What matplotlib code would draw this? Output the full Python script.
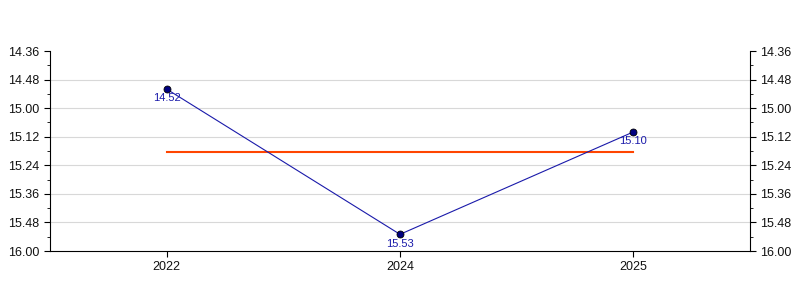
import matplotlib.pyplot as plt
from matplotlib.ticker import FixedLocator, FuncFormatter

plt.rcParams['font.family'] = ['Liberation Sans', 'DejaVu Sans']

years = ['2022', '2024', '2025']
times_sec = [892, 953, 910]  # 14:52, 15:53, 15:10
labels = ['14.52', '15.53', '15.10']
avg_sec = sum(times_sec) / len(times_sec)

major_ticks = [876, 888, 900, 912, 924, 936, 948, 960]
minor_ticks = [882, 894, 906, 918, 930, 942, 954]


def fmt(v, pos=None):
    v = int(round(v))
    return f"{v // 60}.{v % 60:02d}"


fig = plt.figure(figsize=(8, 3), dpi=100)
ax = fig.add_axes([0.0625, 0.1633, 0.875, 0.6667])

# grid only on the inner major ticks
for t in major_ticks[1:-1]:
    ax.axhline(t, color='#d8d8d8', lw=0.8, zorder=0)

x = list(range(len(years)))
ax.plot([x[0], x[-1]], [avg_sec, avg_sec], color='#ff4500', lw=1.5, zorder=2)
ax.plot(x, times_sec, color='#1a1aaa', lw=0.8, marker='o', ms=5,
        mfc='#000080', mec='#000000', mew=0.6, zorder=3)
for xi, yi, lab in zip(x, times_sec, labels):
    ax.annotate(lab, (xi, yi), xytext=(0, -3), textcoords='offset points',
                ha='center', va='top', fontsize=8, color='#1a1aaa')

ax.set_xlim(-0.5, 2.5)
ax.set_ylim(960, 876)
ax.set_xticks(x)
ax.set_xticklabels(years)
ax.yaxis.set_major_locator(FixedLocator(major_ticks))
ax.yaxis.set_minor_locator(FixedLocator(minor_ticks))
ax.yaxis.set_major_formatter(FuncFormatter(fmt))
ax.tick_params(axis='both', labelsize=9, direction='out', length=4,
               labelcolor='#111111')
ax.tick_params(axis='y', which='both', left=True, right=True, labelright=True)
ax.tick_params(axis='y', which='minor', length=2)
ax.spines['top'].set_visible(False)

fig.savefig('out.png', dpi=100)
